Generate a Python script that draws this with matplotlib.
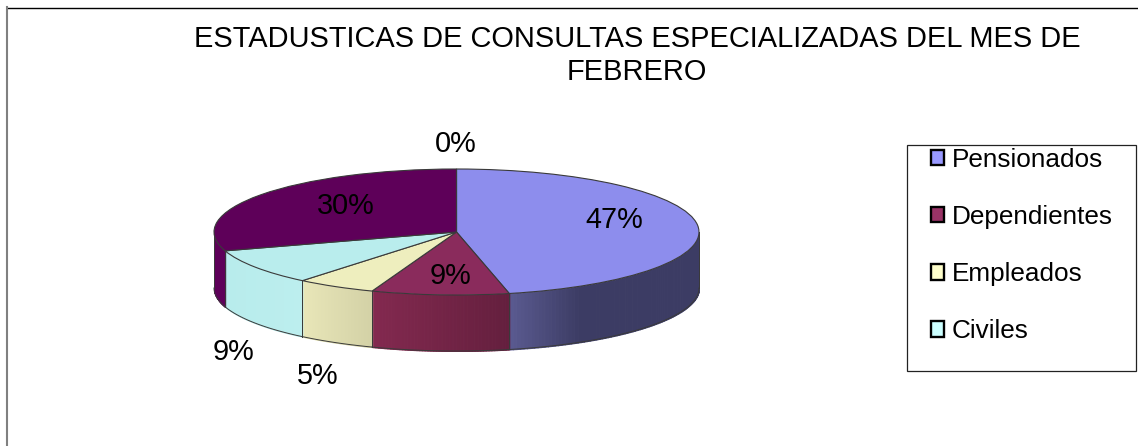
import numpy as np
import matplotlib
matplotlib.use("Agg")
import matplotlib.pyplot as plt
from matplotlib.colors import to_rgb
from matplotlib.patches import Patch, Rectangle

categories = ["Pensionados", "Dependientes", "Empleados", "Civiles", "Otros", "Sin dato"]
values = [46.51, 9.15, 5.3, 9.2, 29.84, 0.0]
title = "ESTADUSTICAS DE CONSULTAS ESPECIALIZADAS DEL MES DE\nFEBRERO"
legend_count = 4

top_colors = ["#8d8ded", "#8a2b5c", "#eeeebe", "#b9eded", "#5e0059", "#5e0059"]
legend_colors = ["#9999ff", "#993366", "#ffffcc", "#ccffff"]
side_stops = [
    [(0.0, "#5a5a90"), (0.37, "#3c3c64"), (1.0, "#3c3c64")],
    [(0.0, "#83294f"), (1.0, "#641f3e")],
    [(0.0, "#e8e6b8"), (1.0, "#d3d1a6")],
    [(0.0, "#b8ecec"), (1.0, "#bceeee")],
    [(0.0, "#5e0059"), (1.0, "#5e0059")],
    [(0.0, "#5e0059"), (1.0, "#5e0059")],
]
label_xy = [(614, 219.5), (450.5, 276.5), (318, 376), (234, 351.5), (346, 205.5), (456, 143.5)]

W, H = 1138, 446
FONT = "Liberation Sans"
FS_TITLE = 20.9
FS_LABEL = 20.8
FS_LEGEND = 18.8
EDGE = "#3a3a3a"

fig = plt.figure(figsize=(W / 100, H / 100), dpi=100, facecolor="white")
plt.rcParams["font.family"] = [FONT, "DejaVu Sans"]

# Pie axes: stretched so that the circle becomes the tilted ellipse
left, right, top, bottom = 214, 699, 169, 351
pie_ax = fig.add_axes([left / W, (H - bottom) / H, (right - left) / W, (bottom - top) / H])
depth = 56 / 63
pie_ax.pie(values, colors=top_colors, startangle=90, counterclock=False, radius=1,
           wedgeprops=dict(edgecolor=EDGE, linewidth=0.8, zorder=5))
pie_ax.set_aspect("auto")
pie_ax.set_xlim(-1, 1)
pie_ax.set_ylim(-1 - depth, 1)
pie_ax.axis("off")

# Side wall of the visible (front) half
total = sum(values)
edges = np.concatenate([[0], np.cumsum(values)]) / total * 360
for i in range(len(values)):
    a = max(edges[i], 90.0)
    b = min(edges[i + 1], 270.0)
    if b <= a:
        continue
    th = np.radians(np.linspace(a, b, 90))
    xs, ys = np.sin(th), np.cos(th)
    xl, xr = xs.min(), xs.max()
    pos = [s[0] for s in side_stops[i]]
    rgb = np.array([to_rgb(s[1]) for s in side_stops[i]])
    for j in range(len(th) - 1):
        t = ((xs[j] + xs[j + 1]) / 2 - xl) / (xr - xl)
        c = [np.interp(t, pos, rgb[:, k]) for k in range(3)]
        pie_ax.fill_between(xs[j:j + 2], ys[j:j + 2], ys[j:j + 2] - depth,
                            color=c, linewidth=0.8, antialiased=False, zorder=2)
    pie_ax.plot(xs, ys - depth, color=EDGE, lw=0.7, zorder=3, clip_on=False)
    for k in (0, -1):
        pie_ax.plot([xs[k], xs[k]], [ys[k], ys[k] - depth], color=EDGE, lw=0.7, zorder=3, clip_on=False)

# Overlay axes in picture coordinates for the texts and frames
ov = fig.add_axes([0, 0, 1, 1], facecolor="none", zorder=10)
ov.set_xlim(0, W)
ov.set_ylim(H, 0)
ov.axis("off")
ov.plot([7, W], [7.5, 7.5], color="black", lw=1.0)
ov.plot([7, 7], [7, H], color="#808080", lw=1.5)

ov.text(637, 55.5, title, ha="center", va="center", fontsize=FS_TITLE, family=FONT, linespacing=1.22, color="black")
for v, (x, y) in zip(values, label_xy):
    ov.text(x, y, f"{round(v / total * 100)}%", ha="center", va="center", fontsize=FS_LABEL, family=FONT, color="black")

ov.add_patch(Rectangle((907.5, 144.5), 229, 226.5, facecolor="white", edgecolor="#222222", lw=0.9))
handles = [Patch(facecolor=c, edgecolor="black", linewidth=1.7) for c in legend_colors]
leg = ov.legend(handles, categories[:legend_count], loc="upper left",
                bbox_to_anchor=(923 / W, 1 - 140 / H), bbox_transform=fig.transFigure,
                frameon=False, prop=dict(family=FONT, size=FS_LEGEND), labelspacing=1.27,
                handlelength=0.52, handleheight=0.52, handletextpad=0.28, borderpad=0.3, borderaxespad=0)

fig.savefig("out.png", dpi=100, facecolor="white")
